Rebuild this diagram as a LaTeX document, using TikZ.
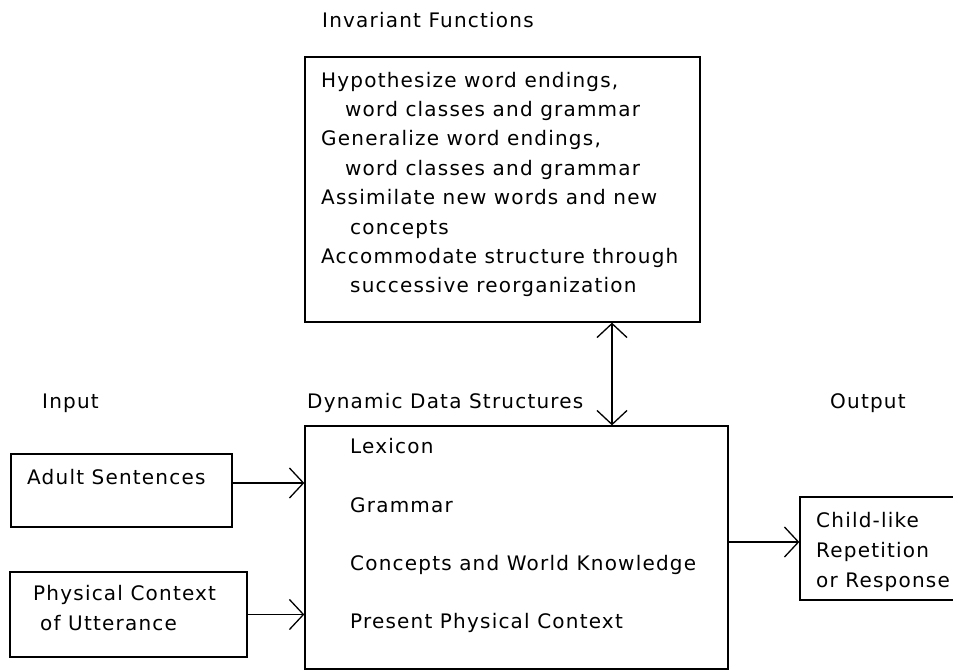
\documentclass[tikz,border=0pt]{standalone}
\usepackage{fontspec}
\setmainfont{DejaVu Sans}[LetterSpace=6]
\usetikzlibrary{arrows.meta}
\begin{document}
\begin{tikzpicture}[x=1pt,y=-1pt,
  box/.style={draw, line width=1.3pt, inner sep=0pt},
  lbl/.style={anchor=base west, inner sep=0pt, font=\fontsize{20}{24}\selectfont},
  arr/.style={line width=1.3pt, -{Straight Barb[length=14pt,width=30pt,line width=1.3pt]}},
  arrtwo/.style={line width=1.3pt, {Straight Barb[length=14pt,width=30pt,line width=1.3pt]}-{Straight Barb[length=14pt,width=30pt,line width=1.3pt]}}
  ]
\useasboundingbox (0,0) rectangle (953,670);
% boxes
\node[box, minimum width=395pt, minimum height=265pt] (inv) at (502.5,189.5) {};
\node[box, minimum width=423pt, minimum height=243pt] (dds) at (516.5,547.5) {};
\node[box, minimum width=221pt, minimum height=73pt] (adult) at (121.5,490.5) {};
\node[box, minimum width=237pt, minimum height=85pt] (phys) at (128.5,614.5) {};
\node[box, minimum width=165pt, minimum height=103pt] (out) at (882.5,548.5) {};
% headers
\node[lbl] (hinv) at (322,27) {Invariant Functions};
\node[lbl] (hin) at (42,408) {Input};
\node[lbl] (hdds) at (307,408) {Dynamic Data Structures};
\node[lbl] (hout) at (830,408) {Output};
% invariant functions text
\node[lbl] (t1) at (321,87) {Hypothesize word endings,};
\node[lbl] (t2) at (345,116.4) {word classes and grammar};
\node[lbl] (t3) at (321,145.8) {Generalize word endings,};
\node[lbl] (t4) at (345,175.2) {word classes and grammar};
\node[lbl] (t5) at (321,204.6) {Assimilate new words and new};
\node[lbl] (t6) at (350,234) {concepts};
\node[lbl] (t7) at (321,263.4) {Accommodate structure through};
\node[lbl] (t8) at (350,292.8) {successive reorganization};
% dynamic data structures text
\node[lbl] (d1) at (350,453) {Lexicon};
\node[lbl] (d2) at (350,512) {Grammar};
\node[lbl] (d3) at (350,570) {Concepts and World Knowledge};
\node[lbl] (d4) at (350,628) {Present Physical Context};
% inputs
\node[lbl] (a1t) at (27,484) {Adult Sentences};
\node[lbl] (p1t) at (33,600) {Physical Context};
\node[lbl] (p2t) at (40,630) {of Utterance};
% output
\node[lbl] (o1) at (816,527) {Child-like};
\node[lbl] (o2) at (816,557) {Repetition};
\node[lbl] (o3) at (816,587) {or Response};
% connectors
\coordinate (ax) at (612,0);
\draw[arrtwo] (inv.south -| ax) -- (dds.north -| ax);
\draw[arr] ([yshift=7.5pt]adult.east) coordinate (ca) -- (ca -| dds.west);
\draw[arr] (phys.east) -- (phys.east -| dds.west);
\draw[arr] ([yshift=5.5pt]dds.east) coordinate (cb) -- (cb -| out.west);
\end{tikzpicture}
\end{document}
